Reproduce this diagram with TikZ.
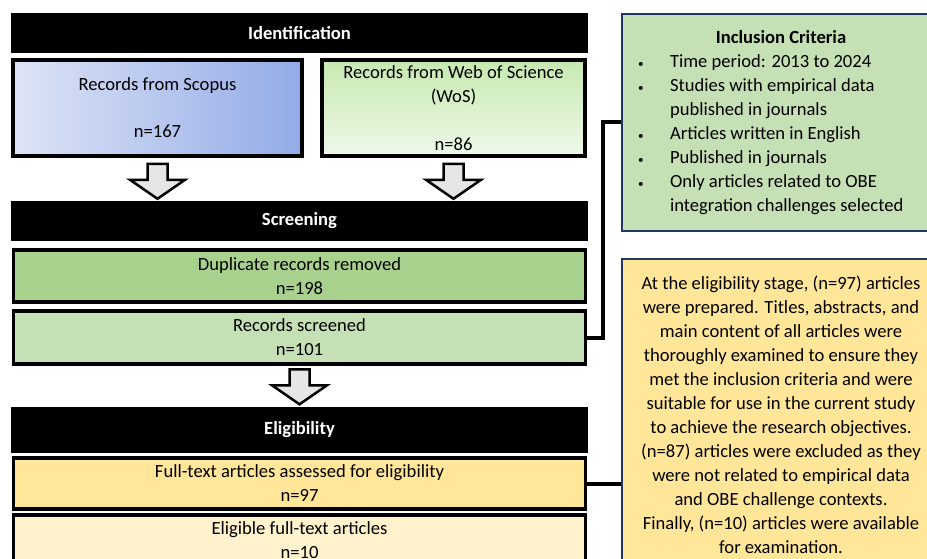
\documentclass[tikz,border=0pt]{standalone}
\usepackage{fontspec}
\setmainfont{Carlito}
\usetikzlibrary{positioning}

\definecolor{scopusleft}{RGB}{222,228,246}
\definecolor{scopusright}{RGB}{146,171,231}
\definecolor{wostop}{RGB}{198,233,176}
\definecolor{wosbottom}{RGB}{239,249,234}
\definecolor{dupgreen}{RGB}{169,209,142}
\definecolor{screengreen}{RGB}{197,224,180}
\definecolor{fullyellow}{RGB}{255,230,153}
\definecolor{eligyellow}{RGB}{255,242,204}
\definecolor{critblue}{RGB}{32,56,100}
\definecolor{arrowgrey}{RGB}{231,230,230}

\begin{document}
\begin{tikzpicture}[x=1pt, y=-1pt, on grid,
		font=\fontsize{18.6}{24}\selectfont,
		stagebar/.style={fill=black, text=white, font=\fontsize{18.6}{24}\selectfont\bfseries, minimum width=577pt, minimum height=40pt, inner sep=0pt},
		recbox/.style={draw=black, line width=3.5pt, minimum width=572pt, inner sep=0pt, align=center},
		critbox/.style={draw=critblue, line width=1.5pt, minimum width=318pt, inner sep=0pt, align=center},
		link/.style={draw=black, line width=4pt},
		downblock/.pic={\draw[line width=2.5pt, fill=arrowgrey] (-10,-35) -- (10,-35) -- (10,-19) -- (27.5,-19) -- (0,0) -- (-27.5,-19) -- (-10,-19) -- cycle;}]
			\useasboundingbox (0,0) rectangle (927,559);
			
			\node[stagebar] (ident) at (299.5,33) {Identification};
			\node[recbox, minimum width=289pt, minimum height=96pt, left color=scopusleft, right color=scopusright] (scopus) at (157.5,108) {Records from Scopus\\[23pt]n=167};
			\node[recbox, minimum width=263pt, minimum height=96pt, top color=wostop, bottom color=wosbottom] (wos) at (453.5,108) {Records from Web of Science\\(WoS)\\[24pt]n=86};
			
			\node[stagebar] (screen) [below=188pt of ident] {Screening};
			\node[recbox, fill=dupgreen, minimum height=52pt] (dup) [below=55pt of screen] {Duplicate records removed\\n=198};
			\node[recbox, fill=screengreen, minimum height=53pt] (records) [below=61.5pt of dup] {Records screened\\n=101};
			
			\node[stagebar, minimum height=46pt] (elig) [below=92pt of records] {Eligibility};
			\node[recbox, fill=fullyellow, minimum height=51pt] (fulltext) [below=54pt of elig] {Full-text articles assessed for eligibility\\n=97};
			\node[recbox, fill=eligyellow, minimum height=51pt] (eligible) [below=57pt of fulltext] {Eligible full-text articles\\n=10};
			
			\node[critbox, fill=screengreen, minimum height=217pt] (incl) at (781,122.5) {%
				\begin{tabular}{@{\hspace{5pt}}p{32pt}@{}p{259pt}@{}}
					\multicolumn{2}{c}{\textbf{Inclusion Criteria}}\\
					{\fontsize{11}{11}\selectfont\textbullet} & Time period: 2013 to 2024\\
					{\fontsize{11}{11}\selectfont\textbullet} & Studies with empirical data\\
					& published in journals\\
					{\fontsize{11}{11}\selectfont\textbullet} & Articles written in English\\
					{\fontsize{11}{11}\selectfont\textbullet} & Published in journals\\
					{\fontsize{11}{11}\selectfont\textbullet} & Only articles related to OBE\\
					& integration challenges selected
				\end{tabular}};
			\node[critbox, fill=fullyellow, minimum height=312pt] (findings) at (781,415) {At the eligibility stage, (n=97) articles\\were prepared. Titles, abstracts, and\\main content of all articles were\\thoroughly examined to ensure they\\met the inclusion criteria and were\\suitable for use in the current study\\to achieve the research objectives.\\(n=87) articles were excluded as they\\were not related to empirical data\\and OBE challenge contexts.\\Finally, (n=10) articles were available\\for examination.};
			
			\path (screen.north -| scopus.south) ++(0,-2) pic {downblock};
			\path (screen.north -| wos.south) ++(0,-2) pic {downblock};
			\path (elig.north) ++(0,-2) pic {downblock};
			
			\draw[link] (records.east) -- ++(16,0) |- (incl.west);
			\draw[link] (fulltext.east) -- (fulltext.east -| findings.west);
		\end{tikzpicture}
\end{document}
